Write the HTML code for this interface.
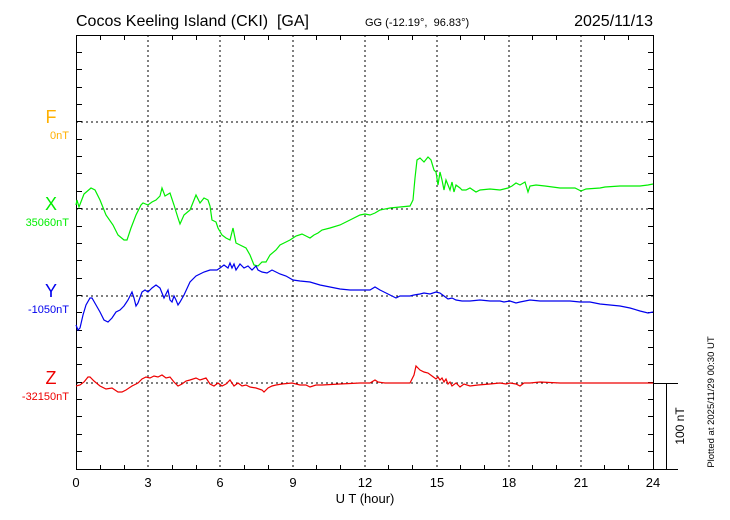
<!DOCTYPE html>
<html><head><meta charset="utf-8"><style>
html,body{margin:0;padding:0;background:#fff;}
svg{display:block;font-family:"Liberation Sans",sans-serif;}
</style></head><body>
<svg width="730" height="520" viewBox="0 0 730 520" xmlns="http://www.w3.org/2000/svg">
<rect width="730" height="520" fill="#fff"/>
<g stroke="#000" stroke-width="1" stroke-dasharray="2,3" fill="none">
<line x1="148" y1="35" x2="148" y2="469"/><line x1="220" y1="35" x2="220" y2="469"/>
<line x1="293" y1="35" x2="293" y2="469"/><line x1="365" y1="35" x2="365" y2="469"/>
<line x1="437" y1="35" x2="437" y2="469"/><line x1="509" y1="35" x2="509" y2="469"/>
<line x1="581" y1="35" x2="581" y2="469"/>
<line x1="76" y1="122" x2="654" y2="122"/><line x1="76" y1="209" x2="654" y2="209"/>
<line x1="76" y1="296" x2="654" y2="296"/><line x1="76" y1="383" x2="654" y2="383"/>
</g>
<g stroke="#000" stroke-width="1" fill="none">
<rect x="76.5" y="35.5" width="577" height="434"/>
<line x1="654" y1="383.5" x2="678" y2="383.5"/>
<line x1="654" y1="469.5" x2="678" y2="469.5"/>
<line x1="666.5" y1="383" x2="666.5" y2="469"/>
<path d="M100.5 36v4M124.5 36v4M172.5 36v4M196.5 36v4M244.5 36v4M268.5 36v4M316.5 36v4M340.5 36v4M388.5 36v4M412.5 36v4M460.5 36v4M484.5 36v4M532.5 36v4M556.5 36v4M604.5 36v4M628.5 36v4
M100.5 469v-4M124.5 469v-4M172.5 469v-4M196.5 469v-4M244.5 469v-4M268.5 469v-4M316.5 469v-4M340.5 469v-4M388.5 469v-4M412.5 469v-4M460.5 469v-4M484.5 469v-4M532.5 469v-4M556.5 469v-4M604.5 469v-4M628.5 469v-4
M77 52.5h5M77 69.5h5M77 87.5h5M77 104.5h5M77 121.5h5M77 139.5h5M77 156.5h5M77 173.5h5M77 191.5h5M77 208.5h5M77 226.5h5M77 243.5h5M77 260.5h5M77 278.5h5M77 295.5h5M77 312.5h5M77 330.5h5M77 347.5h5M77 364.5h5M77 382.5h5M77 399.5h5M77 416.5h5M77 434.5h5M77 451.5h5
M653 52.5h-5M653 69.5h-5M653 87.5h-5M653 104.5h-5M653 121.5h-5M653 139.5h-5M653 156.5h-5M653 173.5h-5M653 191.5h-5M653 208.5h-5M653 226.5h-5M653 243.5h-5M653 260.5h-5M653 278.5h-5M653 295.5h-5M653 312.5h-5M653 330.5h-5M653 347.5h-5M653 364.5h-5M653 382.5h-5M653 399.5h-5M653 416.5h-5M653 434.5h-5M653 451.5h-5"/>
</g>
<polyline fill="none" stroke="#00ee00" stroke-width="1.2" points="76,205 77,200 79,207 84,194 91,188 95,190 100,200 106,215 113,225 118,235 124,240 127,240 131,228 136,215 141,205 143,203 148,205 152,202 156,200 160,196 162,188 165,196 170,193 174,205 178,218 180,224 184,215 190,210 194,200 196,195 200,203 204,198 208,200 210,206 212,220 216,222 218,228 222,235 226,238 230,240 232,232 233,228 236,243 240,245 246,248 250,255 252,260 254,265 258,266 262,262 266,262 270,255 276,250 280,245 284,243 290,240 296,236 302,234 306,236 310,238 314,235 318,233 322,230 330,228 340,225 350,220 360,215 365,214 370,215 375,213 380,210 390,208 400,207 410,206 413,200 415,178 417,160 420,158 424,162 428,157 431,160 434,170 436,172 438,185 440,172 442,180 444,190 446,180 448,185 450,190 452,182 454,192 456,185 460,188 462,190 466,190 470,188 476,192 480,190 490,189 500,190 508,188 512,186 516,183 520,185 525,182 528,192 530,186 536,185 545,186 560,188 575,188 581,191 586,189 600,188 605,187 620,186 640,186 648,185 653,184"/>
<polyline fill="none" stroke="#0000ee" stroke-width="1.2" points="76,325 78,330 80,328 83,315 86,305 90,298 92,298 96,305 100,312 104,320 108,322 112,318 116,312 120,310 124,306 128,300 132,292 134,298 136,306 138,303 142,292 145,290 148,292 152,288 156,285 160,288 164,298 168,290 170,300 172,302 174,296 176,300 178,305 180,302 184,295 190,282 196,276 204,272 210,270 217,270 220,268 224,265 228,268 230,263 232,268 234,264 236,270 240,264 244,268 248,266 252,270 256,266 258,270 262,272 267,273 272,270 280,274 286,276 293,280 300,281 310,282 320,285 330,287 340,289 350,290 360,290 370,290 375,287 380,290 390,295 396,298 400,296 410,296 414,295 420,294 424,293 430,294 436,292 440,293 444,296 448,299 452,298 456,300 462,301 470,301 480,300 490,301 500,301 504,302 510,301 516,303 520,302 530,300 540,301 550,301 560,301 570,301 580,302 590,302 600,304 610,305 620,306 630,308 640,311 648,313 653,312"/>
<polyline fill="none" stroke="#ee0000" stroke-width="1.2" points="76,386 80,385 84,382 88,377 90,377 94,381 100,386 106,389 112,388 118,392 122,392 126,390 132,386 138,383 142,379 146,377 150,378 154,376 158,377 162,375 166,378 170,377 174,382 178,386 182,384 186,381 190,380 196,378 200,380 206,378 210,384 214,386 218,383 222,386 226,384 230,380 234,386 238,383 242,386 246,385 250,387 256,388 262,390 264,392 268,388 272,386 276,385 282,384 292,383 300,385 306,385 310,387 316,385 322,385 340,384 360,383 370,383 375,380 378,382 385,383 400,383 410,383 414,375 416,366 420,370 424,372 428,373 432,376 436,379 438,377 440,380 442,378 444,382 446,379 448,384 450,382 452,386 456,383 460,387 464,384 470,386 478,385 490,384 500,383 506,384 510,383 516,384 520,386 524,383 530,383 540,382 560,383 590,383 620,383 653,383"/>
<g font-size="16" fill="#000">
<text x="76" y="26" xml:space="preserve">Cocos Keeling Island (CKI)  [GA]</text>
<text x="653" y="26" text-anchor="end">2025/11/13</text>
</g>
<text x="365" y="26" font-size="11" xml:space="preserve">GG (-12.19°,  96.83°)</text>
<g font-size="18" text-anchor="middle">
<text x="51" y="123" fill="#ffb000">F</text>
<text x="51" y="210" fill="#00ee00">X</text>
<text x="51" y="297" fill="#0000ee">Y</text>
<text x="51" y="384" fill="#ee0000">Z</text>
</g>
<g font-size="11" text-anchor="end">
<text x="69" y="139" fill="#ffb000">0nT</text>
<text x="69" y="226" fill="#00ee00">35060nT</text>
<text x="69" y="313" fill="#0000ee">-1050nT</text>
<text x="69" y="400" fill="#ee0000">-32150nT</text>
</g>
<g font-size="13" text-anchor="middle" fill="#000">
<text x="76" y="487">0</text><text x="148" y="487">3</text><text x="220" y="487">6</text>
<text x="293" y="487">9</text><text x="365" y="487">12</text><text x="437" y="487">15</text>
<text x="509" y="487">18</text><text x="581" y="487">21</text><text x="653" y="487">24</text>
<text x="365" y="503">U T (hour)</text>
</g>
<text transform="translate(684,426) rotate(-90)" font-size="12" text-anchor="middle">100 nT</text>
<text transform="translate(714,402) rotate(-90)" font-size="9.5" text-anchor="middle">Plotted at 2025/11/29 00:30 UT</text>
</svg>
</body></html>
